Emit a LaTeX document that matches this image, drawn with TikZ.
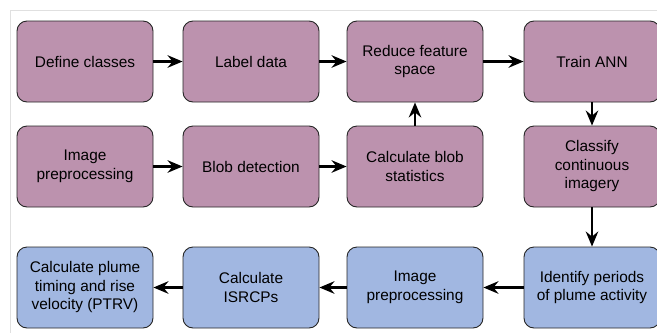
\documentclass[tikz,border=0pt]{standalone}
\usepackage{fontspec}
\setmainfont{Liberation Sans}
\usetikzlibrary{arrows.meta}
\definecolor{purp}{RGB}{188,146,174}
\definecolor{blu}{RGB}{161,183,225}
\definecolor{frame}{RGB}{224,224,224}
\begin{document}
\begin{tikzpicture}[x=1pt,y=-1pt,
  box/.style={draw=black!85,line width=0.9pt,rounded corners=10pt,minimum width=136pt,minimum height=81pt,align=center,inner sep=2pt,font=\fontsize{15.4pt}{18.5pt}\selectfont},
  pbox/.style={box,fill=purp},
  bbox/.style={box,fill=blu},
  arr/.style={line width=2.2pt,-{Stealth[length=15pt,width=12.5pt,inset=5pt]}}]
\useasboundingbox (0,0) rectangle (657,333);
\clip (0,0) rectangle (657,333);
\draw[frame,line width=1pt] (10,333) -- (10,10) -- (657,10);
\node[pbox] (dc) at (85,61.5) {Define classes};
\node[pbox] (ld) at (251,61.5) {Label data};
\node[pbox] (rf) at (415,61.5) {Reduce feature\\space};
\node[pbox] (ta) at (592,61.5) {Train ANN};
\node[pbox] (ip) at (85,166.5) {Image\\preprocessing};
\node[pbox] (bd) at (251,166.5) {Blob detection};
\node[pbox] (cb) at (415,166.5) {Calculate blob\\statistics};
\node[pbox] (cc) at (592,166.5) {Classify\\continuous\\imagery};
\node[bbox] (cp) at (85,287.5) {Calculate plume\\timing and rise\\velocity (PTRV)};
\node[bbox] (ci) at (251,287.5) {Calculate\\ISRCPs};
\node[bbox] (ip2) at (415,287.5) {Image\\preprocessing};
\node[bbox] (id) at (592,287.5) {Identify periods\\of plume activity};
\draw[arr] (dc) -- (ld);
\draw[arr] (ld) -- (rf);
\draw[arr] (rf) -- (ta);
\draw[arr] (ip) -- (bd);
\draw[arr] (bd) -- (cb);
\draw[arr] (cb) -- (rf);
\draw[arr] (ta) -- (cc);
\draw[arr] (cc) -- (id);
\draw[arr] (id) -- (ip2);
\draw[arr] (ip2) -- (ci);
\draw[arr] (ci) -- (cp);
\end{tikzpicture}
\end{document}
